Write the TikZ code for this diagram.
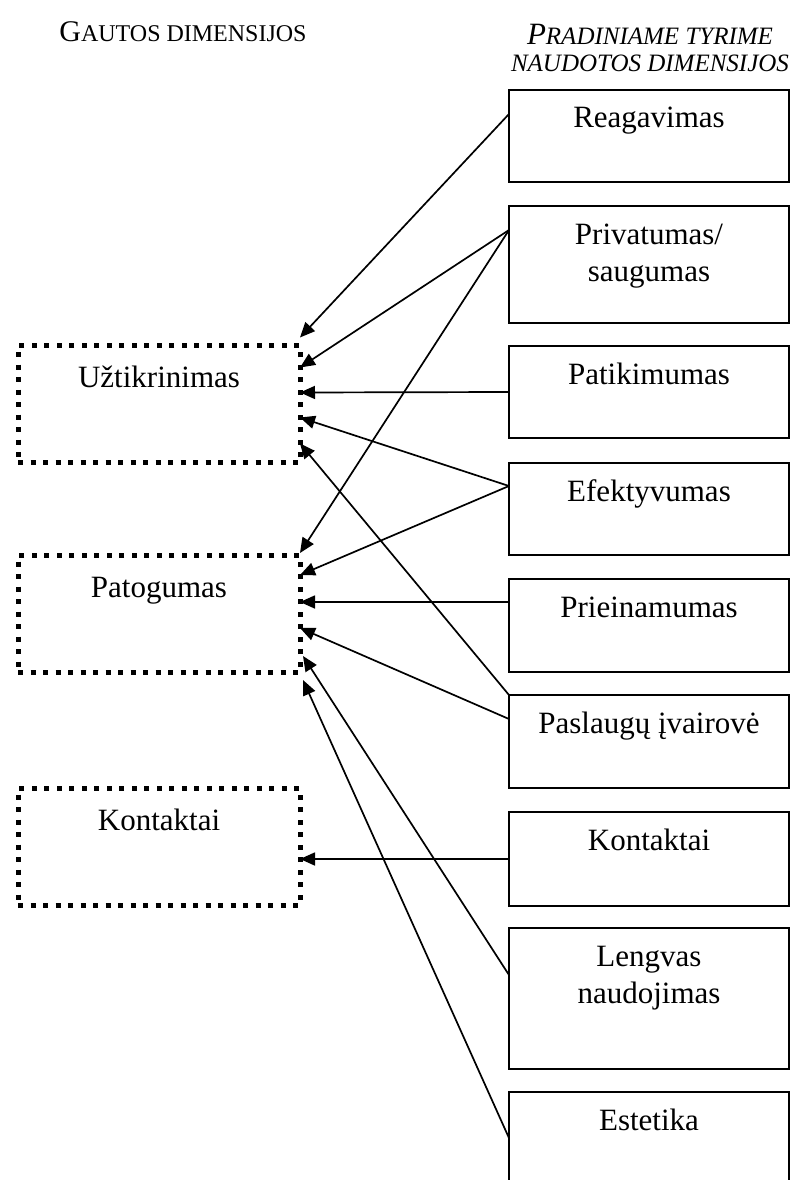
\documentclass[tikz,border=0pt]{standalone}
\usepackage{fontspec}
\setmainfont{Liberation Serif}
\usetikzlibrary{arrows.meta,calc}

\begin{document}
\begin{tikzpicture}[x=1pt,y=-1pt,
  every node/.style={inner sep=0pt, outer sep=0pt},
  rbox/.style={draw, line width=2pt, minimum width=280pt},
  dotbox/.style={draw, line width=5pt, dash pattern=on 5pt off 7.5pt,
    minimum width=282pt, minimum height=117pt},
  txt/.style={anchor=base, font=\fontsize{31}{37}\selectfont, align=center},
  link/.style={line width=1.7pt, -{Triangle[length=15pt,width=13pt]}}
]
\useasboundingbox (0,0) rectangle (790,1180);

% column headings (small caps imitated with two sizes)
\node[anchor=base] (headL) at (183,42)
  {\fontsize{30}{36}\selectfont G\fontsize{24}{29}\selectfont AUTOS DIMENSIJOS};
\node[anchor=base] (headR1) at (650,45)
  {\itshape\fontsize{31}{36}\selectfont P\fontsize{25}{29}\selectfont RADINIAME TYRIME};
\node[anchor=base] (headR2) at (650,72)
  {\itshape\fontsize{25}{29}\selectfont NAUDOTOS DIMENSIJOS};

% dimensions of the initial study (right column)
\node[rbox, minimum height=92pt]  (reag)  at (649,136)   {};
\node[rbox, minimum height=117pt] (priv)  at (649,264.5) {};
\node[rbox, minimum height=92pt]  (patik) at (649,392)   {};
\node[rbox, minimum height=92pt]  (efek)  at (649,509)   {};
\node[rbox, minimum height=93pt]  (prie)  at (649,625.5) {};
\node[rbox, minimum height=93pt]  (pasl)  at (649,741.5) {};
\node[rbox, minimum height=94pt]  (kontR) at (649,859)   {};
\node[rbox, minimum height=141pt] (leng)  at (649,998.5) {};
\node[minimum width=280pt, minimum height=88pt] (este) at (649,1136) {};
\draw[line width=2pt] (este.south west) -- (este.north west)
  -- (este.north east) -- (este.south east);

% labels: anchor=base sits on the last line, so two-line labels go one line lower
\node[txt] (reagT)  at ($(reag.north)+(0,38)$)  {Reagavimas};
\node[txt] (privT)  at ($(priv.north)+(0,75)$)  {Privatumas/\\saugumas};
\node[txt] (patikT) at ($(patik.north)+(0,38)$) {Patikimumas};
\node[txt] (efekT)  at ($(efek.north)+(0,38)$)  {Efektyvumas};
\node[txt] (prieT)  at ($(prie.north)+(0,38)$)  {Prieinamumas};
\node[txt] (paslT)  at ($(pasl.north)+(0,38)$)  {Paslaugų įvairovė};
\node[txt] (kontRT) at ($(kontR.north)+(0,38)$) {Kontaktai};
\node[txt] (lengT)  at ($(leng.north)+(0,75)$)  {Lengvas\\naudojimas};
\node[txt] (esteT)  at ($(este.north)+(0,38)$)  {Estetika};

% obtained dimensions (left column)
\node[dotbox] (uzt)   at (159,404)   {};
\node[dotbox] (pato)  at (159,613.5) {};
\node[dotbox] (kontL) at (159,846.5) {};
\node[txt] (uztT)   at ($(uzt.north)+(0,42)$)   {Užtikrinimas};
\node[txt] (patoT)  at ($(pato.north)+(0,42)$)  {Patogumas};
\node[txt] (kontLT) at ($(kontL.north)+(0,42)$) {Kontaktai};

% connections
\draw[link] ($(reag.north west)+(0,24)$)  -- ($(uzt.north east)+(0,-8)$);
\draw[link] ($(priv.north west)+(0,24)$)  -- ($(uzt.north east)+(0,22)$);
\draw[link] ($(priv.north west)+(0,24)$)  -- ($(pato.north east)+(0,-2)$);
\draw[link] ($(patik.north west)+(0,46)$) -- ($(uzt.north east)+(0,47)$);
\draw[link] ($(efek.north west)+(0,23)$)  -- ($(uzt.north east)+(0,72)$);
\draw[link] ($(efek.north west)+(0,23)$)  -- ($(pato.north east)+(0,20)$);
\draw[link] ($(prie.north west)+(0,23)$)  -- ($(pato.north east)+(0,47)$);
\draw[link] (pasl.north west)             -- ($(uzt.north east)+(0,98)$);
\draw[link] ($(pasl.north west)+(0,24)$)  -- ($(pato.north east)+(0,73)$);
\draw[link] ($(kontR.north west)+(0,47)$) -- ($(kontL.north east)+(0,71)$);
\draw[link] ($(leng.north west)+(0,47)$)  -- ($(pato.north east)+(3,101)$);
\draw[link] ($(este.north west)+(0,46)$)  -- ($(pato.north east)+(3,125)$);
\end{tikzpicture}
\end{document}
